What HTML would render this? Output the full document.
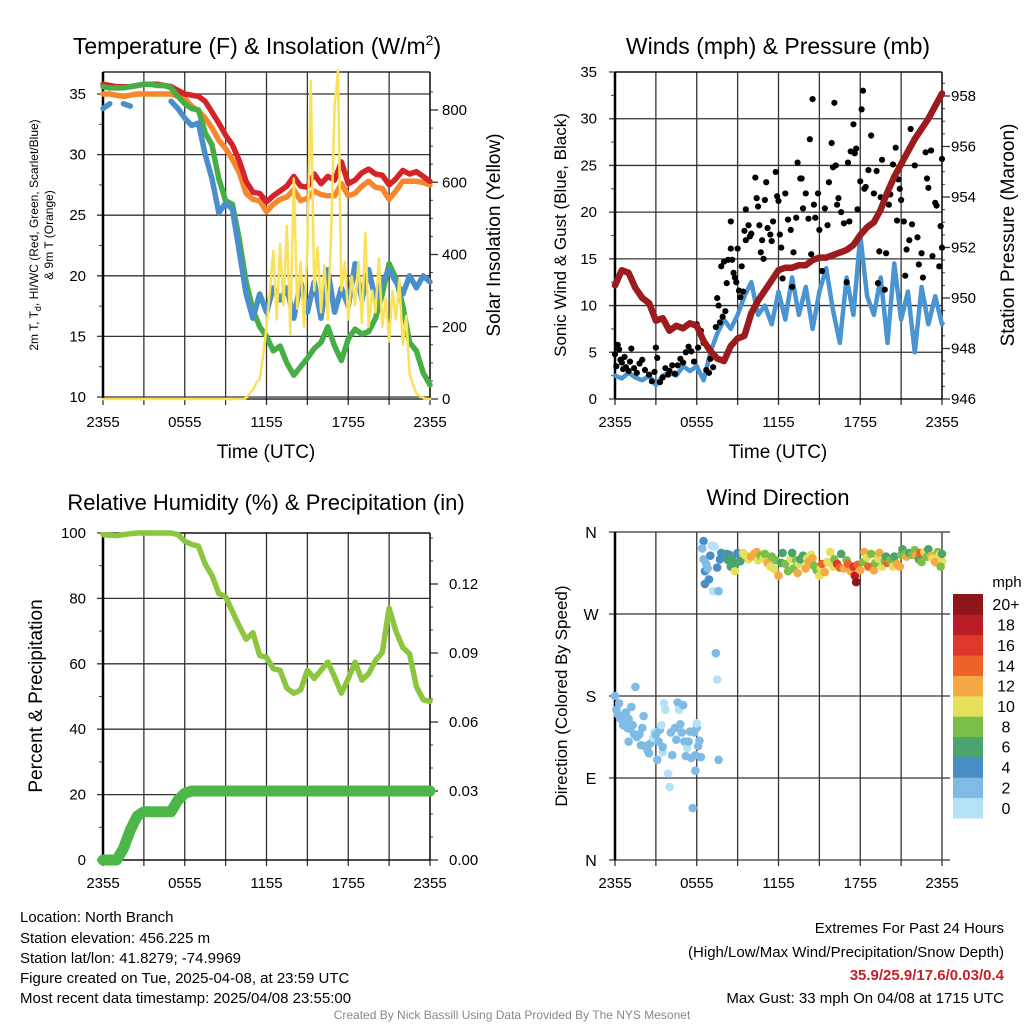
<!DOCTYPE html>
<html><head><meta charset="utf-8">
<style>
html,body{margin:0;padding:0;background:#fff;}
svg{display:block;font-family:"Liberation Sans",Arial,sans-serif;}
</style></head>
<body>
<svg id="fig" width="1024" height="1024" viewBox="0 0 1024 1024" xmlns="http://www.w3.org/2000/svg">
<rect width="1024" height="1024" fill="#fff"/>
<g id="layer"></g>
<text x="20" y="922" font-size="15">Location: North Branch</text>
<text x="20" y="943" font-size="15">Station elevation: 456.225 m</text>
<text x="20" y="963" font-size="15">Station lat/lon: 41.8279; -74.9969</text>
<text x="20" y="983" font-size="15">Figure created on Tue, 2025-04-08, at 23:59 UTC</text>
<text x="20" y="1003" font-size="15">Most recent data timestamp: 2025/04/08 23:55:00</text>
<text x="1004" y="933" font-size="15" text-anchor="end">Extremes For Past 24 Hours</text>
<text x="1004" y="957" font-size="15" text-anchor="end">(High/Low/Max Wind/Precipitation/Snow Depth)</text>
<text x="1004" y="980" font-size="15" font-weight="bold" fill="#c8202a" text-anchor="end">35.9/25.9/17.6/0.03/0.4</text>
<text x="1004" y="1003" font-size="15" text-anchor="end">Max Gust: 33 mph On 04/08 at 1715 UTC</text>
<text x="512" y="1019" font-size="12" fill="#888" text-anchor="middle">Created By Nick Bassill Using Data Provided By The NYS Mesonet</text>
</svg>
<script>
// ---------- DATA (half-hourly unless noted) ----------
const xTickLabels = ["2355","0555","1155","1755","2355"];
const tempLeftTicks = [10,15,20,25,30,35];
const insolTicks = [0,200,400,600,800];
const windTicks = [0,5,10,15,20,25,30,35];
const presTicks = [946,948,950,952,954,956,958];
const rhTicks = [0,20,40,60,80,100];
const precipTicks = ["0.00","0.03","0.06","0.09","0.12"];
const dirTicks = ["N","E","S","W","N"];
const speedBins = ["0","2","4","6","8","10","12","14","16","18","20+"];

const tempRed = [35.8,35.7,35.6,35.6,35.6,35.7,35.8,35.8,35.8,35.7,35.6,35.3,35.0,34.9,34.8,34.4,33.5,32.6,31.6,30.8,29.5,27.8,26.9,26.8,26.1,26.6,27.0,27.4,28.2,27.4,27.3,28.4,27.6,28.2,27.9,29.4,27.6,27.9,28.5,28.8,28.4,28.3,27.5,28.0,28.7,28.4,28.6,28.2,27.8];
const temp9m = [35.0,35.0,34.9,34.8,34.9,35.0,35.0,35.0,35.0,35.0,35.0,34.8,34.6,34.0,33.6,33.0,32.2,31.2,30.5,29.6,28.5,26.8,26.3,26.2,25.3,25.9,26.3,26.5,27.1,26.2,26.4,27.0,26.7,26.6,26.6,27.6,26.6,26.8,27.4,27.8,27.3,27.2,26.3,27.0,27.8,27.8,27.8,27.7,27.5];
const heatWindChill = [35.6,35.5,35.5,35.5,35.6,35.7,35.8,35.8,35.7,35.7,35.5,34.8,34.2,33.8,33.7,31.8,30.8,28.0,26.2,25.9,23.0,19.5,17.2,15.8,15.0,13.8,14.2,12.8,11.8,12.5,13.2,14.0,14.5,15.8,14.2,13.0,14.8,15.6,15.2,15.4,16.5,18.5,21.0,19.8,17.5,14.5,13.8,12.0,11.0];
const dewPoint = [33.8,34.2,null,34.2,34.0,null,33.2,null,null,null,34.4,33.8,33.0,32.4,32.6,30.0,28.0,25.2,26.0,25.5,22.0,18.5,16.5,18.5,17.0,19.0,18.0,19.0,16.5,19.5,17.0,19.5,16.5,20.5,17.0,19.0,17.5,21.0,18.0,20.5,18.0,19.5,20.5,19.5,18.5,20.0,19.0,20.0,19.5];
// quarter-hourly
const insolation = [0,0,0,0,0,0,0,0,0,0,0,0,0,0,0,0,0,0,0,0,0,0,0,0,0,0,0,0,0,0,0,0,0,0,0,0,0,0,0,0,
 0,0,3,15,25,45,55,120,200,300,410,220,430,260,480,180,610,250,380,200,420,880,300,420,240,370,220,460,810,910,300,380,220,340,260,380,210,460,200,300,240,390,200,280,160,300,220,330,150,230,70,40,15,8,3,0,0];

const windSpeed = [2.5,2.2,2.8,2.3,2.0,2.5,1.5,2.5,2.8,2.5,3.5,3.0,3.5,2.0,5.0,7.0,8.5,7.5,9.0,11.0,12.5,9.0,10.0,8.0,11.5,8.5,13.0,9.0,12.0,7.5,11.5,14.0,9.5,6.0,13.0,9.0,17.5,11.0,9.0,13.0,6.0,14.5,8.5,11.5,5.0,12.0,8.0,11.0,8.0];
const pressure = [950.5,951.1,951.0,950.4,950.0,949.8,949.1,949.2,948.7,948.9,948.8,949.0,948.9,948.3,947.9,947.6,947.5,948.1,948.4,948.5,949.4,949.9,950.3,950.7,951.1,951.2,951.2,951.3,951.3,951.5,951.6,951.6,951.7,951.8,951.9,952.1,952.5,952.8,953.0,953.5,954.2,954.8,955.3,955.8,956.3,956.7,957.1,957.6,958.1];
const gustObs = [[0,4.8],[0.1,3.5],[0.2,5.8],[0.3,5.3],[0.4,4.2],[0.5,3.9],[0.6,3.2],[0.7,4.5],[0.8,3.4],[1.0,3.0],[1.1,4.0],[1.2,5.4],[1.4,3.3],[1.6,2.8],[1.8,3.8],[2.0,4.2],[2.2,3.1],[2.5,2.6],[2.7,1.9],[2.9,2.9],[3.0,5.5],[3.1,4.4],[3.3,1.8],[3.5,2.3],[3.7,3.3],[3.9,2.6],[4.0,3.0],[4.2,3.6],[4.4,2.7],[4.6,3.6],[4.8,4.3],[5.0,3.9],[5.2,5.0],[5.4,5.6],[5.6,5.1],[5.8,4.0],[6.0,8.0],[6.1,5.5],[6.3,7.3],[6.5,6.0],[6.7,3.1],[6.9,2.8],[7.0,4.3],[7.2,3.4],
[7.4,7.7],[7.5,10.8],[7.6,10.0],[7.7,8.2],[7.8,14.2],[7.9,8.8],[8.0,14.7],[8.1,9.4],[8.2,12.4],[8.3,14.9],[8.5,16.1],[8.5,19.0],[8.6,14.9],[8.7,13.5],[8.8,13.0],[8.9,12.5],[9.0,16.1],[9.1,11.6],[9.2,10.9],[9.3,14.2],[9.4,11.5],[9.5,18.0],[9.6,20.3],[9.6,17.0],[9.8,18.6],[9.9,17.4],[10.0,17.7],[10.3,23.7],[10.4,21.5],[10.5,20.6],[10.6,18.6],[10.7,15.7],[10.8,17.0],[10.9,15.0],[11.0,21.3],[11.1,23.2],[11.2,18.3],[11.4,17.6],[11.5,16.9],[11.6,19.0],[11.8,24.3],[11.9,21.7],[12.0,21.2],[12.1,17.6],[12.2,16.2],[12.3,12.9],[12.5,22.0],[12.7,19.2],[12.9,18.1],[13.0,12.0],[13.1,15.7],[13.3,19.4],[13.4,25.3],[13.6,23.6],[13.7,23.6],[13.8,20.4],[14.0,22.0],[14.2,19.3],[14.3,27.8],[14.4,15.5],[14.5,32.1],[14.6,20.8],[14.7,19.4],[14.9,22.0],[15.0,18.1],[15.2,13.7],[15.4,20.4],[15.6,18.6],[15.7,23.2],[15.9,27.4],[16.0,24.8],[16.1,31.7],[16.2,25.0],[16.3,20.8],[16.4,21.5],[16.6,20.0],[16.8,18.8],[17.0,12.5],[17.1,25.3],[17.2,19.0],[17.3,26.5],[17.5,29.4],[17.6,26.3],[17.7,26.8],[17.8,20.3],[18.0,23.3],[18.1,31.0],[18.2,33.0],[18.3,22.5],[18.4,22.7],[18.6,24.5],[18.8,28.2],[19.0,22.0],[19.2,24.4],[19.3,12.4],[19.4,15.8],[19.5,21.6],[19.6,25.6],[19.8,11.7],[19.9,15.6],[20.1,20.8],[20.2,21.9],[20.4,25.1],[20.6,26.9],[20.7,19.1],[20.8,23.5],[20.9,22.5],[21.0,21.3],[21.2,19.0],[21.3,13.2],[21.4,16.0],[21.6,17.0],[21.7,28.9],[21.8,18.7],[22.0,25.0],[22.2,17.3],[22.3,14.4],[22.5,15.6],[22.6,13.0],[22.8,26.4],[22.9,23.6],[23.0,22.6],[23.2,26.6],[23.3,15.3],[23.5,21.0],[23.6,20.7],[23.8,14.2],[23.9,18.5],[24.0,25.7],[24.0,16.2]];

const relHumidity = [99.5,99.3,99.2,99.5,99.8,100,100,100,100,100,100,99.5,97.5,96.5,96.0,90.5,87,81.5,80.5,76,71.5,67.5,69.5,62.5,62,58.5,58,52.5,51,52,58,55.5,58,60.5,56,51,55.5,60.5,55,57,61,63.5,77,70,65,63,53,49,48.5];
const precipitation = [0,0,0,0.005,0.013,0.019,0.021,0.021,0.021,0.021,0.021,0.026,0.029,0.030,0.030,0.030,0.030,0.030,0.030,0.030,0.030,0.030,0.030,0.030,0.030,0.030,0.030,0.030,0.030,0.030,0.030,0.030,0.030,0.030,0.030,0.030,0.030,0.030,0.030,0.030,0.030,0.030,0.030,0.030,0.030,0.030,0.030,0.030,0.030];

// [hour, direction deg, speed mph]
const windDirObs = [[0,180,2.5],[0.1,165,2.5],[0.3,172,3],[0.2,160,2],[0.4,155,2.5],[0.5,158,2.5],[0.6,148,2.5],[0.7,150,2.5],[0.8,162,2],[0.9,145,2.5],[1.0,155,3],[1.0,130,2.5],[1.1,144,2.5],[1.2,168,3],[1.3,148,2.5],[1.4,138,2.5],[1.5,190,3],[1.6,135,2.5],[1.8,138,2],[1.9,126,2],[2.0,145,2.5],[2.1,158,2.5],[2.2,125,2],[2.4,120,2],[2.5,117,2.5],[2.6,128,2],[2.8,134,1],[2.9,140,0.5],[3.0,138,2.5],[3.1,110,2.5],[3.2,130,2.5],[3.3,143,2.5],[3.4,148,1],[3.5,118,1],[3.5,124,2.5],[3.6,172,0.5],[3.7,165,1],[3.9,95,1],[4.0,80,0.5],[4.1,140,2.5],[4.2,115,2.5],[4.4,145,2.5],[4.5,132,2.5],[4.6,173,2],[4.7,165,1.5],[4.8,149,2.5],[4.9,140,2.5],[5.0,170,2.5],[5.1,130,2.5],[5.2,114,2.5],[5.3,123,1],[5.4,130,2.5],[5.5,141,2.5],[5.6,112,2.5],[5.8,140,2.5],[5.7,57,2.5],[5.9,98,2.5],[5.9,115,2.5],[6.0,145,2.5],[6.1,125,2.5],[6.2,131,3],[6.3,113,2.5],[6.0,150,1],
[6.5,350,4],[6.4,342,2],[6.5,330,3],[6.6,317,4],[6.7,325,2],[6.8,320,3],[6.9,308,4],[6.6,303,4.5],[7.0,334,4],[7.1,345,0.5],[7.2,345,1],[7.3,344,0.5],[7.2,295,0.5],[7.4,227,2.5],[7.5,198,1],[7.6,295,3],[7.6,110,3],[7.7,330,4],[7.5,321,4],[7.8,337,4],[7.9,335,5],[8.0,333,4],[8.2,336,6],[8.3,329,6],[8.4,335,4],[8.5,322,6],[8.6,332,6],[8.8,317,10],[8.9,326,7],[9.0,337,4],[9.2,328,6],
[9.4,337,10],[9.6,334,10],[9.8,330,10],[10.0,333,12],[10.2,336,12],[10.4,338,12],[10.5,329,10],[10.7,334,8],[10.9,331,10],[11.0,336,8],[11.2,326,12],[11.4,322,10],[11.5,333,8],[11.7,319,10],[11.8,329,8],[12.0,312,12],[12.2,326,6],[12.3,337,6],[12.5,325,8],[12.7,317,8],[12.9,330,10],[13.0,337,6],[13.1,320,8],[13.3,329,8],[13.4,315,12],[13.5,325,10],[13.6,330,6],[13.8,334,6],[14.0,320,12],[14.1,331,10],[14.2,327,12],[14.4,335,10],[14.5,331,12],[14.6,323,8],[14.8,318,8],[15.0,312,10],[15.1,320,10],[15.2,325,14],[15.4,316,12],[15.6,327,10],[15.8,338,10],[16.0,322,10],[16.1,330,8],[16.3,325,16],[16.5,321,14],[16.6,336,6],[16.8,320,12],[17.0,329,8],[17.1,325,14],[17.3,317,12],[17.5,322,16],[17.6,312,18],[17.7,305,20],[17.8,324,14],[18.0,318,12],[18.2,327,8],[18.3,338,12],[18.5,332,10],[18.6,322,14],[18.8,336,8],[19.0,318,12],[19.1,326,8],[19.3,331,10],[19.4,337,12],[19.6,322,10],[19.8,328,8],[19.9,333,6],[20.0,326,14],[20.2,329,8],[20.4,322,10],[20.5,333,6],[20.7,325,12],[20.9,322,12],[21.0,335,8],[21.1,341,6],[21.3,336,8],[21.4,333,12],[21.6,337,6],[21.8,335,8],[22.0,340,8],[22.1,334,12],[22.3,330,6],[22.4,337,14],[22.5,327,8],[22.7,338,10],[22.9,333,8],[23.0,341,6],[23.2,334,12],[23.3,331,10],[23.5,327,12],[23.7,338,8],[23.8,335,10],[24.0,328,10],[23.9,322,8],[24.0,336,6]];

const speedColors = ["#b5e2f6","#7fbbe4","#4a8ec6","#4aa46e","#7cbf48","#e6df59","#f5a843","#ee6229","#df372b","#ba1d26","#8e1519"];

// ---------- HELPERS ----------
const NS = "http://www.w3.org/2000/svg";
const layer = document.getElementById("layer");
function mk(tag, attrs, parent) {
  const e = document.createElementNS(NS, tag);
  for (const k in attrs) e.setAttribute(k, attrs[k]);
  (parent || layer).appendChild(e);
  return e;
}
function txt(s, x, y, size, anchor, parent, rot) {
  const t = mk("text", {x: x, y: y, "font-size": size, "text-anchor": anchor || "middle"}, parent);
  if (rot) t.setAttribute("transform", "rotate(" + rot + " " + x + " " + y + ")");
  t.textContent = s;
  return t;
}
function scale(d0, d1, r0, r1) { return v => r0 + (v - d0) * (r1 - r0) / (d1 - d0); }

function panelFrame(p, name) {
  const g = mk("g", {});
  
  
  for (let h = 0; h <= 24; h += 3) {
    const x = p.x(h);
    const l = mk("line", {x1: x, y1: p.top, x2: x, y2: p.bot + 6, stroke: "#333", "stroke-width": 1.3}, g);
    
    
  }
  xTickLabels.forEach((s, i) => {
    const t = txt(s, p.x(i * 6), p.bot + 28, 15, "middle", g);
    
    
  });
  return g;
}
function hGrid(g, p, y, ext) {
  const l = mk("line", {x1: p.left - 6, y1: y, x2: p.right + (ext || 0), y2: y, stroke: "#333", "stroke-width": 1.3}, g);
  
  
}
function border(g, p, right) {
  mk("line", {x1: p.left, y1: p.top, x2: p.left, y2: p.bot, stroke: "#000", "stroke-width": 2.5}, g);
  mk("line", {x1: p.left, y1: p.top, x2: p.right, y2: p.top, stroke: "#000", "stroke-width": 1.3}, g);
  mk("line", {x1: p.left, y1: p.bot, x2: p.right, y2: p.bot, stroke: "#000", "stroke-width": 1.3}, g);
  if (right) mk("line", {x1: p.right, y1: p.top, x2: p.right, y2: p.bot, stroke: "#000", "stroke-width": 1.3}, g);
}
function linePath(vals, step, xf, yf) {
  let d = "", pen = false;
  vals.forEach((v, i) => {
    if (v === null) { pen = false; return; }
    d += (pen ? "L" : "M") + xf(i * step).toFixed(1) + " " + yf(v).toFixed(1);
    pen = true;
  });
  return d;
}
function series(d, color, w, name, parent) {
  const e = mk("path", {d: d, fill: "none", stroke: color, "stroke-width": w, "stroke-linejoin": "round", "stroke-linecap": "round"}, parent);
  
  
  return e;
}
function minorTicksLeft(g, p, yf, lo, hi, step) {
  for (let v = lo; v <= hi + 1e-9; v += step)
    mk("line", {x1: p.left - 4, y1: yf(v), x2: p.left, y2: yf(v), stroke: "#444", "stroke-width": 1}, g);
}
function ticksRight(g, p, yf, lo, hi, step, len) {
  for (let v = lo; v <= hi + 1e-9; v += step)
    mk("line", {x1: p.right, y1: yf(v), x2: p.right + len, y2: yf(v), stroke: "#444", "stroke-width": 1}, g);
}

// ---------- PANEL 1: Temperature ----------
(function () {
  const p = {left: 103, right: 430, top: 72, bot: 399};
  p.x = scale(0, 24, p.left, p.right);
  const yT = scale(10, 35, 397, 94);
  const yI = scale(0, 800, 399, 110);
  const g = panelFrame(p, "temperature-panel");
  tempLeftTicks.forEach(v => {
    hGrid(g, p, yT(v));
    const t = txt(String(v), 86, yT(v) + 5, 15, "end", g);
    
    
  });
  minorTicksLeft(g, p, yT, 10, 35, 2.5);
  ticksRight(g, p, yI, 0, 850, 50, 3);
  insolTicks.forEach(v => {
    mk("line", {x1: p.right, y1: yI(v), x2: p.right + 8, y2: yI(v), stroke: "#333", "stroke-width": 1.3}, g);
    const t = txt(String(v), 442, yI(v) + 5, 15, "start", g);
    
    
  });
  border(g, p, true);
  series(linePath(temp9m, 0.5, p.x, yT), "#f6872f", 5.5, "temp-9m-line", g);
  series(linePath(tempRed, 0.5, p.x, yT), "#d5232a", 5.5, "temp-2m-line", g);
  series(linePath(heatWindChill, 0.5, p.x, yT), "#46ae46", 5.5, "heat-wind-chill-line", g);
  series(linePath(dewPoint, 0.5, p.x, yT), "#4b8fca", 5.5, "dew-point-line", g);
  series(linePath(insolation, 0.25, p.x, yI), "#f9e15a", 2.5, "insolation-line", g);
  let t = txt("Temperature (F) & Insolation (W/m", 257, 54, 23, "middle", g);
  const sup = mk("tspan", {dy: -9, "font-size": 14}, t); sup.textContent = "2";
  const cl = mk("tspan", {dy: 9, "font-size": 23}, t); cl.textContent = ")";
   
  t = txt("Time (UTC)", 266, 458, 19, "middle", g);
   
  t = txt("2m T, T", 38, 235, 12, "middle", g, -90);
  t.textContent = "";
  const a = mk("tspan", {}, t); a.textContent = "2m T, T";
  const b = mk("tspan", {dy: 3, "font-size": 9}, t); b.textContent = "d";
  const c = mk("tspan", {dy: -3}, t); c.textContent = ", HI/WC (Red, Green, Scarlet/Blue)";
   
  t = txt("& 9m T (Orange)", 53, 235, 12, "middle", g, -90);
   
  t = txt("Solar Insolation (Yellow)", 500, 235, 19, "middle", g, -90);
   
})();

// ---------- PANEL 2: Winds & Pressure ----------
(function () {
  const p = {left: 615, right: 942, top: 72, bot: 399};
  p.x = scale(0, 24, p.left, p.right);
  const yW = scale(0, 35, 399, 72);
  const yP = scale(946, 958, 399, 96);
  const g = panelFrame(p, "wind-panel");
  windTicks.forEach(v => {
    hGrid(g, p, yW(v));
    const t = txt(String(v), 597, yW(v) + 5, 15, "end", g);
     
  });
  minorTicksLeft(g, p, yW, 0, 35, 2.5);
  ticksRight(g, p, yP, 946, 958.8, 0.5, 3);
  presTicks.forEach(v => {
    mk("line", {x1: p.right, y1: yP(v), x2: p.right + 8, y2: yP(v), stroke: "#333", "stroke-width": 1.3}, g);
    const t = txt(String(v), 951, yP(v) + 5, 15, "start", g);
     
  });
  border(g, p, true);
  series(linePath(windSpeed, 0.5, p.x, yW), "#4b94d2", 4.5, "wind-speed-line", g);
  gustObs.forEach(o => {
    const c = mk("circle", {cx: p.x(o[0]), cy: yW(o[1]), r: 3.1, fill: "#000"}, g);
    
    
  });
  series(linePath(pressure, 0.5, p.x, yP), "#9b1b1e", 6.5, "pressure-line", g);
  let t = txt("Winds (mph) & Pressure (mb)", 778, 54, 23, "middle", g);
   
  t = txt("Time (UTC)", 778, 458, 19, "middle", g);
   
  t = txt("Sonic Wind & Gust (Blue, Black)", 566, 235, 17, "middle", g, -90);
   
  t = txt("Station Pressure (Maroon)", 1014, 235, 19, "middle", g, -90);
   
})();

// ---------- PANEL 3: RH & Precip ----------
(function () {
  const p = {left: 103, right: 430, top: 533, bot: 860};
  p.x = scale(0, 24, p.left, p.right);
  const yR = scale(0, 100, 860, 533);
  const yQ = scale(0, 0.12, 860, 584);
  const g = panelFrame(p, "humidity-panel");
  rhTicks.forEach(v => {
    hGrid(g, p, yR(v));
    const t = txt(String(v), 86, yR(v) + 5, 15, "end", g);
     
  });
  minorTicksLeft(g, p, yR, 0, 100, 10);
  ticksRight(g, p, yQ, 0, 0.14, 0.01, 3);
  precipTicks.forEach(s => {
    const v = parseFloat(s);
    mk("line", {x1: p.right, y1: yQ(v), x2: p.right + 8, y2: yQ(v), stroke: "#333", "stroke-width": 1.3}, g);
    const t = txt(s, 449, yQ(v) + 5, 15, "start", g);
     
  });
  border(g, p, false);
  mk("line", {x1: p.right, y1: p.top, x2: p.right, y2: p.bot, stroke: "#000", "stroke-width": 1.3}, g);
  series(linePath(relHumidity, 0.5, p.x, yR), "#8cc63f", 5.5, "rh-line", g);
  series(linePath(precipitation, 0.5, p.x, yQ), "#4cb748", 11, "precip-line", g);
  let t = txt("Relative Humidity (%) & Precipitation (in)", 266, 510, 22, "middle", g);
   
  t = txt("Percent & Precipitation", 42, 696, 19, "middle", g, -90);
   
})();

// ---------- PANEL 4: Wind Direction ----------
(function () {
  const p = {left: 615, right: 942, top: 532, bot: 860};
  p.x = scale(0, 24, p.left, p.right);
  const yD = scale(0, 360, 860, 532);
  const g = panelFrame(p, "direction-panel");
  dirTicks.forEach((s, i) => {
    const y = yD(i * 90);
    hGrid(g, p, y, 8);
    const t = txt(s, 591, y + 6, 16, "middle", g);
     
  });
  mk("line", {x1: p.left, y1: p.top, x2: p.left, y2: p.bot, stroke: "#000", "stroke-width": 2.5}, g);
  windDirObs.forEach(o => {
    const bin = Math.max(0, Math.min(10, Math.floor(o[2] / 2)));
    const c = mk("circle", {cx: p.x(o[0]), cy: yD(o[1]), r: 4.3, fill: speedColors[bin]}, g);
    
    
  });
  let t = txt("Wind Direction", 778, 505, 22, "middle", g);
   
  t = txt("Direction (Colored By Speed)", 567, 696, 17, "middle", g, -90);
   
  const cb = mk("g", {});
  
  
  const top = 594, bot = 818, h = (bot - top) / speedBins.length;
  speedBins.forEach((s, i) => {
    const y = bot - (i + 1) * h;
    const r = mk("rect", {x: 953, y: y, width: 30, height: h + 0.5, fill: speedColors[i]}, cb);
    
    
    const t2 = txt(s, 1006, y + h / 2 + 6, 16, "middle", cb);
    
    
  });
  t = txt("mph", 1007, 587, 15, "middle", cb);
   
})();
</script>
</body></html>
